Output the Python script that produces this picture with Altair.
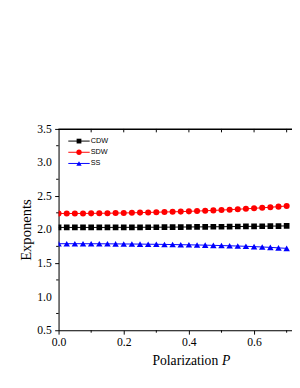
import altair as alt
import pandas as pd

P = [0.0, 0.025, 0.05, 0.075, 0.1, 0.125, 0.15, 0.175, 0.2, 0.225, 0.25, 0.275, 0.3, 0.325,
     0.35, 0.375, 0.4, 0.425, 0.45, 0.475, 0.5, 0.525, 0.55, 0.575, 0.6, 0.625, 0.65, 0.675, 0.7]
cdw = [2.032, 2.032, 2.032, 2.032, 2.032, 2.032, 2.032, 2.033, 2.033, 2.034, 2.034, 2.035, 2.035, 2.036,
       2.037, 2.038, 2.039, 2.040, 2.041, 2.042, 2.043, 2.045, 2.046, 2.047, 2.049, 2.050, 2.052, 2.053, 2.055]
sdw = [2.240, 2.240, 2.240, 2.241, 2.242, 2.243, 2.244, 2.246, 2.248, 2.250, 2.253, 2.256, 2.259, 2.262,
       2.265, 2.268, 2.272, 2.276, 2.281, 2.286, 2.291, 2.297, 2.303, 2.310, 2.317, 2.325, 2.333, 2.342, 2.352]
ss = [1.790, 1.790, 1.790, 1.790, 1.789, 1.789, 1.788, 1.787, 1.786, 1.785, 1.784, 1.782, 1.781, 1.779,
      1.777, 1.775, 1.773, 1.771, 1.768, 1.765, 1.762, 1.759, 1.755, 1.751, 1.746, 1.741, 1.735, 1.728, 1.720]

series_names = ["CDW", "SDW", "SS"]
series_colors = ["#000000", "#ff0000", "#0000ff"]
point_shapes = ["square", "circle", "triangle-up"]
point_sizes = [34, 44, 44]
legend_sizes = [24, 30, 30]

x_major = [0.0, 0.2, 0.4, 0.6]
x_minor = [0.1, 0.3, 0.5, 0.7]
y_major = [0.5, 1.0, 1.5, 2.0, 2.5, 3.0, 3.5]
y_labels = ["0.5", "1.0", "1.5", "2.0", "2.5", "3.0", "3.5"]
y_minor = [0.75, 1.25, 1.75, 2.25, 2.75, 3.25]
top_ticks = [0.1, 0.2, 0.3, 0.4, 0.5, 0.6, 0.7]

rows = []
for name, vals in zip(series_names, [cdw, sdw, ss]):
    for p, v in zip(P, vals):
        rows.append({"P": p, "value": v, "series": name})
df = pd.DataFrame(rows)

W, H = 240, 207
SERIF = "Liberation Serif"
SANS = "Liberation Sans"

xscale = alt.Scale(domain=[0, W / 335.0], nice=False, zero=False)
yscale = alt.Scale(domain=[0.5, 3.5], nice=False, zero=False)

x_axis = alt.Axis(
    values=x_major, title=None, grid=False, format=".1f", tickSize=4,
    labelFont=SERIF, labelFontSize=12, labelColor="black", labelPadding=3,
    labelOverlap=False, labelFlush=False, domainColor="black", tickColor="black",
)
y_axis = alt.Axis(
    values=y_major, title="Exponents", grid=False, tickSize=4, labels=False,
    domainColor="black", tickColor="black",
    titleFont=SERIF, titleFontSize=15, titleFontWeight="normal", titleColor="black", titlePadding=21,
)

base = alt.Chart(df)
color_scale = alt.Scale(domain=series_names, range=series_colors)

lines = base.mark_line(strokeWidth=1, clip=True).encode(
    x=alt.X("P:Q", scale=xscale, axis=x_axis),
    y=alt.Y("value:Q", scale=yscale, axis=y_axis),
    color=alt.Color("series:N", scale=color_scale, legend=None),
    detail="series:N",
)
points = base.mark_point(filled=True, opacity=1, clip=True).encode(
    x="P:Q",
    y="value:Q",
    color=alt.Color("series:N", scale=color_scale, legend=None),
    shape=alt.Shape("series:N", scale=alt.Scale(domain=series_names, range=point_shapes), legend=None),
    size=alt.Size("series:N", scale=alt.Scale(domain=series_names, range=point_sizes), legend=None),
)

# y tick labels
y_label_marks = alt.Chart(pd.DataFrame({"value": y_major, "lab": y_labels})).mark_text(
    font=SERIF, fontSize=12, align="right", baseline="middle", color="black"
).encode(y="value:Q", text="lab:N", x=alt.value(-7))

# minor ticks and top frame ticks
x_minor_ticks = alt.Chart(pd.DataFrame({"P": x_minor})).mark_rule(color="black", strokeWidth=1).encode(
    x="P:Q", y=alt.value(H), y2=alt.value(H + 2.5)
)
y_minor_ticks = alt.Chart(pd.DataFrame({"value": y_minor})).mark_rule(color="black", strokeWidth=1).encode(
    y="value:Q", x=alt.value(-2.5), x2=alt.value(0)
)
top_line = alt.Chart(pd.DataFrame({"P": top_ticks})).mark_rule(color="black", strokeWidth=1).encode(
    x=alt.value(0), x2=alt.value(W), y=alt.value(0.5)
)
top_tick_marks = alt.Chart(pd.DataFrame({"P": top_ticks})).mark_rule(color="black", strokeWidth=1).encode(
    x="P:Q", y=alt.value(0), y2=alt.value(3.5)
)

# legend (drawn inside plot, top-left)
legend_rows_y = [12.5, 24, 35.5]
legend_layers = []
for name, col, shp, sz, ly in zip(series_names, series_colors, point_shapes, legend_sizes, legend_rows_y):
    ldf = pd.DataFrame({"series": [name]})
    legend_layers.append(alt.Chart(ldf).mark_rule(color=col, strokeWidth=1).encode(
        x=alt.value(10), x2=alt.value(32), y=alt.value(ly)))
    legend_layers.append(alt.Chart(ldf).mark_point(filled=True, opacity=1, color=col, shape=shp, size=sz).encode(
        x=alt.value(21), y=alt.value(ly)))
    legend_layers.append(alt.Chart(ldf).mark_text(
        font=SANS, fontSize=7.5, align="left", baseline="middle", color="black").encode(
        text="series:N", x=alt.value(33), y=alt.value(ly)))

tdf = pd.DataFrame({"t": ["Polarization", "P"]})
title_main = alt.Chart(tdf).transform_filter("datum.t == 'Polarization'").mark_text(
    font=SERIF, fontSize=14, align="left", baseline="alphabetic", color="black"
).encode(text="t:N", x=alt.value(96.5), y=alt.value(243))
title_p = alt.Chart(tdf).transform_filter("datum.t == 'P'").mark_text(
    font=SERIF, fontSize=14, fontStyle="italic", align="left", baseline="alphabetic", color="black"
).encode(text="t:N", x=alt.value(168), y=alt.value(243))

chart = alt.layer(
    lines, points, y_label_marks, x_minor_ticks, y_minor_ticks, top_line, top_tick_marks,
    *legend_layers, title_main, title_p
).properties(
    width=W, height=H,
    autosize=alt.AutoSizeParams(type="none"),
    padding={"left": 52, "top": 119, "right": 0, "bottom": 53},
).configure_view(stroke=None).configure(background="white")

chart.save("out.html", embed_options={"renderer": "svg", "actions": False})
